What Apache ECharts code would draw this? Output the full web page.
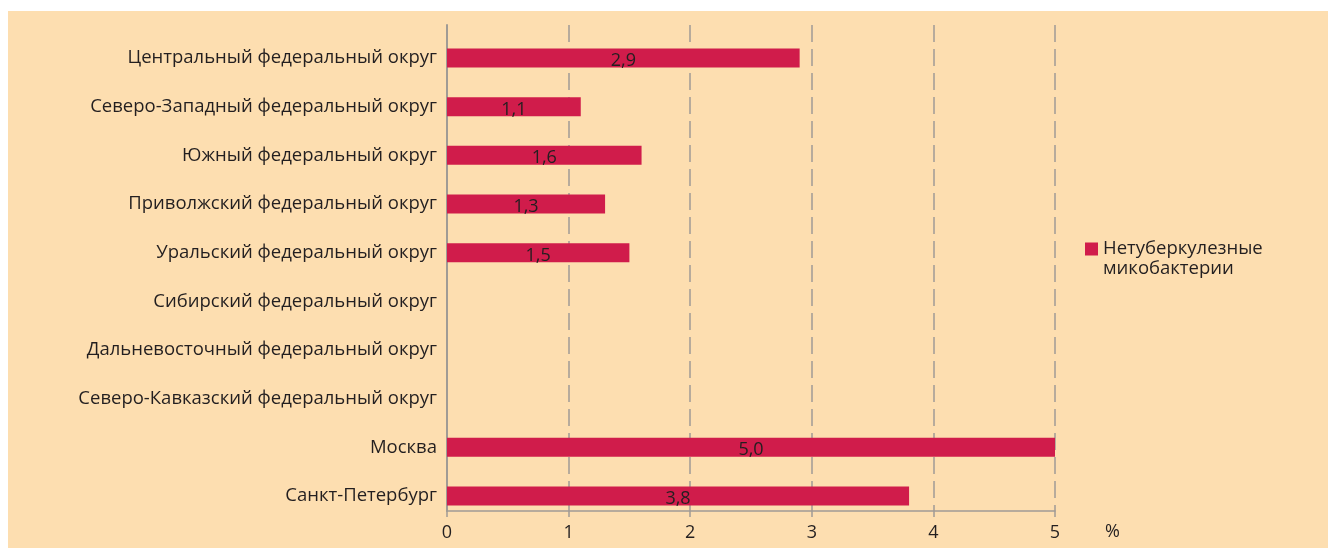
<!DOCTYPE html>
<html>
<head>
<meta charset="utf-8">
<script src="https://cdn.jsdelivr.net/npm/echarts@6/dist/echarts.min.js"></script>
<style>
  html, body { margin: 0; padding: 0; background: #ffffff; }
  #chart { position: absolute; left: 8px; top: 11px; width: 1320px; height: 537px; background: #FDDEB0; }
</style>
</head>
<body>
<div id="chart"></div>
<script>
// Регионы (сверху вниз)
const regions = [
  'Центральный федеральный округ',
  'Северо-Западный федеральный округ',
  'Южный федеральный округ',
  'Приволжский федеральный округ',
  'Уральский федеральный округ',
  'Сибирский федеральный округ',
  'Дальневосточный федеральный округ',
  'Северо-Кавказский федеральный округ',
  'Москва',
  'Санкт-Петербург'
];
// Доля нетуберкулезных микобактерий, %
const ntmShare = [2.9, 1.1, 1.6, 1.3, 1.5, null, null, null, 5.0, 3.8];
const seriesName = 'Нетуберкулезные\nмикобактерии';
const xTicks = { min: 0, max: 5, interval: 1 };
const unitLabel = '%';

const FONT = 'Open Sans';
const TEXT = '#231F20';
const LINE = '#A09B95';
const BAR = '#D01C4B';

const chart = echarts.init(document.getElementById('chart'), null, { renderer: 'canvas' });

chart.setOption({
  animation: false,
  textStyle: { fontFamily: FONT },
  grid: [
    // bars
    { left: 439, right: 273, top: 22.7, bottom: 27.7, outerBoundsMode: 'none' },
    // dashed grid lines and vertical axis
    { left: 439, right: 273, top: 14, bottom: 37, outerBoundsMode: 'none' }
  ],
  legend: {
    data: [seriesName],
    left: 1077,
    top: 208,
    padding: 0,
    icon: 'rect',
    itemWidth: 13,
    itemHeight: 13,
    itemGap: 6,
    // leading empty line keeps the marker level with the first text line
    formatter: name => '\n' + name,
    textStyle: { fontFamily: FONT, fontSize: 18.5, color: TEXT, lineHeight: 20 }
  },
  xAxis: [
    {
      gridIndex: 0,
      type: 'value',
      min: xTicks.min, max: xTicks.max, interval: xTicks.interval,
      offset: -9.3,
      axisLine: { show: true, lineStyle: { color: LINE, width: 1.5 } },
      axisTick: { show: true, length: 6, lineStyle: { color: LINE, width: 1.5 } },
      splitLine: { show: false },
      axisLabel: { margin: 13, fontFamily: FONT, fontSize: 18, color: TEXT },
      name: unitLabel,
      nameLocation: 'end',
      nameGap: 50,
      nameTextStyle: { fontFamily: FONT, fontSize: 18, color: TEXT, verticalAlign: 'top', padding: [12, 0, 0, 0] }
    },
    {
      gridIndex: 1,
      type: 'value',
      min: xTicks.min, max: xTicks.max, interval: xTicks.interval,
      axisLine: { show: false },
      axisTick: { show: false },
      axisLabel: { show: false },
      splitLine: {
        show: true,
        showMinLine: false,
        lineStyle: { color: LINE, width: 1.5, type: [17, 7] }
      }
    }
  ],
  yAxis: [
    {
      gridIndex: 0,
      type: 'category',
      data: regions,
      inverse: true,
      axisLine: { show: false },
      axisTick: { show: false },
      axisLabel: { margin: 10, fontFamily: FONT, fontSize: 18.5, color: TEXT }
    },
    {
      gridIndex: 1,
      type: 'value',
      min: 0, max: 1,
      axisLine: { show: true, lineStyle: { color: LINE, width: 2 } },
      axisTick: { show: false },
      axisLabel: { show: false },
      splitLine: { show: false }
    }
  ],
  series: [
    {
      name: seriesName,
      type: 'bar',
      xAxisIndex: 0,
      yAxisIndex: 0,
      data: ntmShare,
      barWidth: 19,
      itemStyle: { color: BAR },
      label: {
        show: true,
        position: 'inside',
        offset: [0, 3],
        fontFamily: FONT,
        fontSize: 18,
        color: TEXT,
        formatter: p => p.value == null ? '' : p.value.toFixed(1).replace('.', ',')
      }
    }
  ]
});
</script>
</body>
</html>
